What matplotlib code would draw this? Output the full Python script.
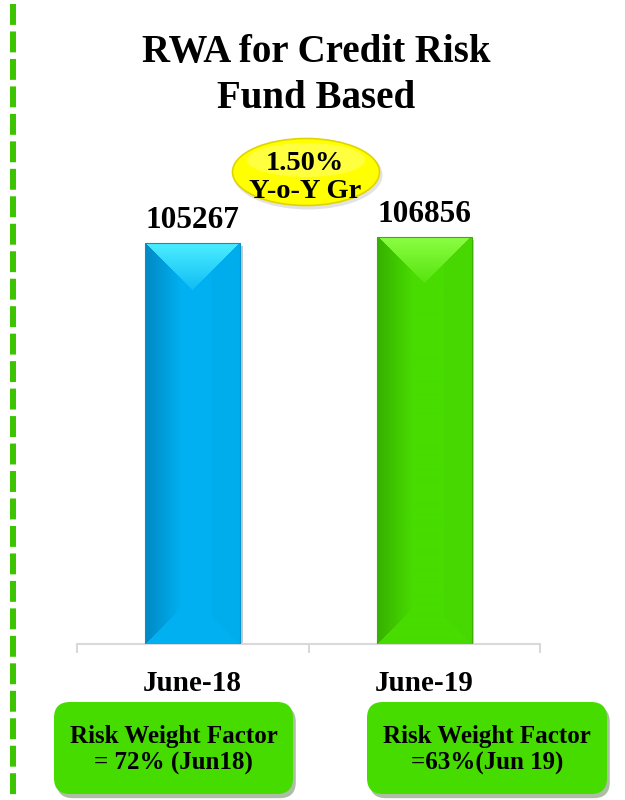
import numpy as np
import matplotlib.pyplot as plt
import matplotlib.patheffects as pe
from matplotlib.colors import to_rgb
from matplotlib.lines import Line2D
from matplotlib.patches import Ellipse, FancyBboxPatch
from matplotlib.transforms import Affine2D

plt.rcParams['font.family'] = ['Liberation Serif', 'DejaVu Serif']
plt.rcParams['font.weight'] = 'bold'

# data
title_lines = ['RWA for Credit Risk', 'Fund Based']
periods = ['June-18', 'June-19']
rwa = [105267, 106856]
growth_lines = ['1.50%', 'Y-o-Y Gr']
risk_head = 'Risk Weight Factor'
risk_vals = ['= 72% (Jun18)', '=63%(Jun 19)']

# bar colours: base, darker left face, lighter top bevel, outline
bar_base = ['#00B0F0', '#48DC00']
bar_dark = ['#0088C4', '#36B000']
bar_light = ['#4CEEFF', '#8CFF44']
bar_edge = ['#0094D0', '#3CB000']
box_green = '#46DC00'

W, H = 625, 800
fig = plt.figure(figsize=(W / 100, H / 100), dpi=100)
# pixel coords (origin top-left) -> figure
px = Affine2D().scale(1 / W, -1 / H).translate(0, 1) + fig.transFigure


def fx(x):
    return x / W


def fy(y):
    return 1 - y / H


# dashed green rule on the left
fig.add_artist(Line2D([13, 13], [4, 800], transform=px, color='#3CC400', lw=4.3,
                      linestyle=(0, (3.5, 1.1)), dash_capstyle='butt'))

# title
fig.text(fx(316), fy(62), title_lines[0], ha='center', va='baseline', fontsize=28)
fig.text(fx(316), fy(108), title_lines[1], ha='center', va='baseline', fontsize=28)

# axes: baseline at y=644 px, 401 px for the first bar
ymax = 120000
ax_h = ymax * 401 / rwa[0]
ax = fig.add_axes([fx(77), fy(644), (540 - 77) / W, ax_h / H])

x = np.arange(len(periods))
bw = 0.41
bars = ax.bar(x, rwa, width=bw, color=bar_base, linewidth=0, zorder=2)
for b in bars:
    b.set_path_effects([pe.SimplePatchShadow(offset=(2, -2), alpha=0.25), pe.Normal()])
ax.set_xlim(-0.5, 1.5)
ax.set_ylim(0, ymax)

# bevel shading for each bar
for b, base, dark, light in zip(bars, bar_base, bar_dark, bar_light):
    x0 = b.get_x()
    x1 = x0 + b.get_width()
    y1 = b.get_height()
    (dx0, dy0), (dx1, dy1) = ax.transData.transform([(x0, 0), (x1, y1)])
    wpx, hpx = int(round(dx1 - dx0)), int(round(dy1 - dy0))
    base_c, dark_c, light_c = (np.array(to_rgb(c)) for c in (base, dark, light))
    c = np.arange(wpx) + 0.5
    r = (np.arange(hpx) + 0.5)[:, None]
    side = np.minimum(c, wpx - c)[None, :]
    t = np.clip(c / (0.38 * wpx), 0, 1)
    row = dark_c + (base_c - dark_c) * t[:, None]
    row[c > 0.7 * wpx] = base_c * 0.985
    img = np.repeat(row[None], hpx, axis=0)
    top = r < side
    f = np.clip(1 - 0.8 * r / (wpx / 2), 0, 1)
    top_col = base_c + (light_c - base_c) * f[..., None]
    top_col = np.broadcast_to(top_col, img.shape)
    img[top] = top_col[top]
    bottom = (hpx - r) < side
    img[bottom] = base_c
    im = ax.imshow(img, extent=(x0, x1, 0, y1), origin='upper', aspect='auto',
                   interpolation='bilinear', zorder=3)
    im.set_clip_path(b)

ax.bar(x, rwa, width=bw, fill=False, edgecolor=bar_edge, linewidth=0.8, zorder=4)
ax.set_xlim(-0.5, 1.5)
ax.set_ylim(0, ymax)

for xi, v in zip(x, rwa):
    ax.annotate(f'{v}', xy=(xi, v), xytext=(0, 11), textcoords='offset points',
                ha='center', va='baseline', fontsize=22.5)
for xi, p in zip(x, periods):
    ax.annotate(p, xy=(xi, 0), xytext=(0, -34), textcoords='offset points',
                ha='center', va='baseline', fontsize=21, annotation_clip=False)

for s in ['top', 'left', 'right']:
    ax.spines[s].set_visible(False)
ax.spines['bottom'].set_color('#D9D9D9')
ax.spines['bottom'].set_linewidth(1.5)
ax.set_yticks([])
ax.set_xticks([-0.5, 0.5, 1.5], labels=['', '', ''])
ax.tick_params(axis='x', length=6.5, width=1.5, color='#D9D9D9')

# yellow growth bubble
fig.add_artist(Ellipse((308, 175), 149, 69, transform=px, facecolor='#909090',
                       alpha=0.25, edgecolor='none'))
fig.add_artist(Ellipse((306, 172), 147, 67, transform=px, facecolor='#FFFF00',
                       edgecolor='#E0D400', lw=1.2))
fig.add_artist(Ellipse((306, 160), 118, 34, transform=px, facecolor='white',
                       alpha=0.25, edgecolor='none'))
fig.text(fx(305), fy(170), growth_lines[0], ha='center', va='baseline', fontsize=20.5)
fig.text(fx(305), fy(198), growth_lines[1], ha='center', va='baseline', fontsize=20.5)

# risk weight boxes
boxes = [(54, 702, 239, 92), (367, 702, 240, 92)]
for (bx, by, bwid, bht), val in zip(boxes, risk_vals):
    box = FancyBboxPatch((bx, by), bwid, bht, boxstyle='round,pad=0,rounding_size=16',
                         transform=px, facecolor=box_green, edgecolor='none')
    box.set_path_effects([pe.SimplePatchShadow(offset=(2, -3), alpha=0.35), pe.Normal()])
    fig.add_artist(box)
    cx = bx + bwid / 2
    fig.text(fx(cx), fy(743), risk_head, ha='center', va='baseline', fontsize=18)
    fig.text(fx(cx), fy(770), val, ha='center', va='baseline', fontsize=18)

fig.savefig('out.png', dpi=100)
